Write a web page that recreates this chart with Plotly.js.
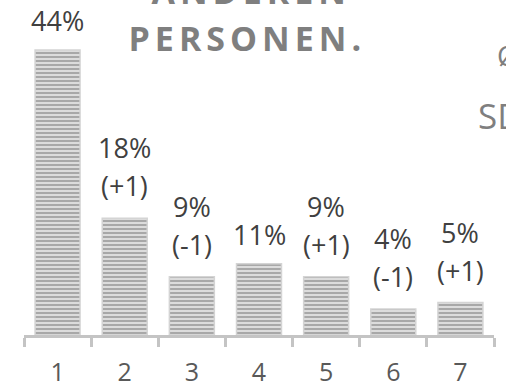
<!DOCTYPE html>
<html>
<head>
<meta charset="utf-8">
<script src="https://cdn.plot.ly/plotly-3.0.1.min.js"></script>
<style>
  html, body { margin: 0; padding: 0; overflow: hidden; background: #fff; }
  #chart { width: 506px; height: 390px; }
  .annotation[data-index="0"] text, .annotation[data-index="1"] text { letter-spacing: 5px; }
</style>
</head>
<body>
<div id="chart"></div>
<script>
const categories = ['1', '2', '3', '4', '5', '6', '7'];
const shares = [44, 18, 9, 11, 9, 4, 5];
const changes = ['', '(+1)', '(-1)', '', '(+1)', '(-1)', '(+1)'];
const titleLines = ['ANDEREN', 'PERSONEN.'];
const sideTexts = ['Ø', 'SD'];

const FONT = '"Open Sans", "Noto Sans", sans-serif';

const trace = {
  type: 'bar',
  x: categories,
  y: shares,
  marker: {
    color: '#dcdcdc',
    line: { color: '#d4d4d4', width: 1.5 },
    pattern: { shape: '-', size: 4, solidity: 0.5, fgcolor: '#a8a8a8', bgcolor: '#dcdcdc', fillmode: 'replace' }
  },
  hoverinfo: 'skip'
};

const annotations = [
  { xref: 'paper', yref: 'paper', x: 0.476, y: 0.8395, xanchor: 'center', yanchor: 'bottom',
    text: titleLines[1], showarrow: false, font: { family: FONT, size: 34, color: '#7f7f7f', weight: 'bold' } },
  { xref: 'paper', yref: 'paper', x: 0.484, y: 0.985, xanchor: 'center', yanchor: 'bottom',
    text: titleLines[0], showarrow: false, font: { family: FONT, size: 34, color: '#7f7f7f', weight: 'bold' } },
  { xref: 'paper', yref: 'paper', x: 1.002, y: 0.799, xanchor: 'left', yanchor: 'bottom',
    text: sideTexts[0], showarrow: false, font: { family: FONT, size: 28, color: '#7f7f7f' } },
  { xref: 'paper', yref: 'paper', x: 0.9617, y: 0.599, xanchor: 'left', yanchor: 'bottom',
    text: sideTexts[1], showarrow: false, font: { family: FONT, size: 35, color: '#7f7f7f' } }
];

categories.forEach((c, i) => {
  const hasChange = changes[i] !== '';
  annotations.push({
    x: i, y: shares[i], xref: 'x', yref: 'y', xanchor: 'center', yanchor: 'bottom',
    yshift: hasChange ? 50 : 9,
    text: shares[i] + '%', showarrow: false,
    font: { family: FONT, size: 27, color: '#404040' }
  });
  if (hasChange) {
    annotations.push({
      x: i, y: shares[i], xref: 'x', yref: 'y', xanchor: 'center', yanchor: 'bottom',
      yshift: 12,
      text: changes[i], showarrow: false,
      font: { family: FONT, size: 27, color: '#404040' }
    });
  }
});

const layout = {
  width: 506, height: 390,
  margin: { l: 23.5, r: 12, t: 11, b: 55, pad: 0 },
  paper_bgcolor: '#ffffff', plot_bgcolor: '#ffffff',
  showlegend: false,
  bargap: 0.33,
  xaxis: {
    type: 'category',
    range: [-0.5, 6.5],
    showline: true, linecolor: '#c4c4c4', linewidth: 3,
    ticks: 'outside', tickson: 'boundaries', ticklen: 9, tickwidth: 3, tickcolor: '#c4c4c4',
    tickfont: { family: FONT, size: 25, color: '#595959' },
    ticklabelstandoff: 13,
    showgrid: false, zeroline: false, fixedrange: true
  },
  yaxis: { visible: false, range: [0, 50], fixedrange: true, showgrid: false, zeroline: false },
  annotations: annotations
};

Plotly.newPlot('chart', [trace], layout, { staticPlot: true, displayModeBar: false });
</script>
</body>
</html>
